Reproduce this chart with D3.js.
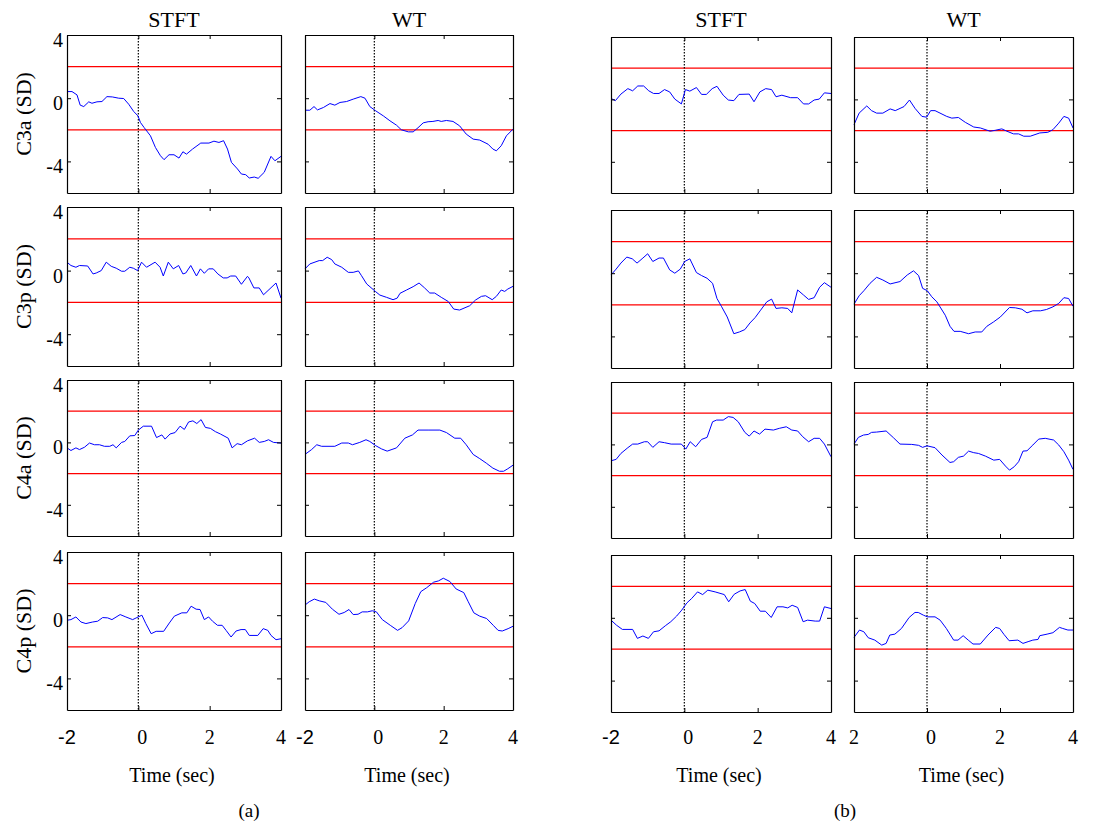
<!DOCTYPE html>
<html>
<head>
<meta charset="utf-8">
<script src="https://cdn.jsdelivr.net/npm/d3@7"></script>
<style>
  body { margin: 0; background: #fff; }
  svg { display: block; font-family: "Liberation Serif", "Times New Roman", serif; }
</style>
</head>
<body>
<svg id="plot" width="1105" height="823"></svg>
<script>
// ---- data, [time (sec), value (SD)] ----
const rowLabels = ["C3a (SD)", "C3p (SD)", "C4a (SD)", "C4p (SD)"];
const colTitles = ["STFT", "WT", "STFT", "WT"];
const xTicks = [-2, 0, 2, 4];
const xTickLabels = [["-2", "0", "2", "4"], ["-2", "0", "2", "4"], ["-2", "0", "2", "4"], ["2", "0", "2", "4"]];
const yTicks = [4, 0, -4];
const yTickLabels = ["4", "0", "-4"];
const thresholds = [2, -2];
const groupLabels = ["(a)", "(b)"];
const axisTitle = "Time (sec)";

const c3aStftA = [[-2,0.42],[-1.86,0.42],[-1.72,0.21],[-1.63,-0.44],[-1.53,-0.53],[-1.39,-0.23],[-1.3,-0.32],[-1.16,-0.23],[-1.02,-0.21],[-0.88,0.1],[-0.73,0.08],[-0.55,0],[-0.41,-0.02],[-0.27,-0.38],[-0.13,-0.84],[-0.01,-1.12],[0.06,-1.54],[0.16,-1.85],[0.34,-2.38],[0.48,-3.12],[0.62,-3.64],[0.72,-3.89],[0.86,-3.58],[1.0,-3.58],[1.14,-3.79],[1.25,-3.39],[1.35,-3.54],[1.52,-3.22],[1.75,-2.84],[1.98,-2.84],[2.12,-2.72],[2.26,-2.8],[2.39,-2.69],[2.5,-3.22],[2.61,-4.06],[2.78,-4.48],[2.89,-4.8],[3.01,-4.84],[3.11,-5.05],[3.25,-4.99],[3.36,-5.07],[3.53,-4.69],[3.72,-3.68],[3.83,-3.96],[4,-3.68]];
const c3aWtA = [[-2,-0.76],[-1.86,-0.76],[-1.74,-0.53],[-1.64,-0.74],[-1.47,-0.59],[-1.28,-0.34],[-1.14,-0.44],[-0.99,-0.27],[-0.8,-0.21],[-0.61,-0.06],[-0.39,0.1],[-0.27,0],[-0.13,-0.53],[0.04,-0.8],[0.26,-1.12],[0.45,-1.43],[0.64,-1.71],[0.78,-2.0],[0.98,-2.13],[1.12,-2.13],[1.26,-1.87],[1.41,-1.56],[1.55,-1.49],[1.69,-1.47],[1.84,-1.41],[1.93,-1.47],[2.08,-1.41],[2.27,-1.47],[2.46,-1.75],[2.65,-2.27],[2.85,-2.59],[3.04,-2.65],[3.28,-2.91],[3.42,-3.22],[3.52,-3.33],[3.66,-3.01],[3.81,-2.38],[4,-1.96]];
const c3aStftB = [[-2,0.06],[-1.88,-0.08],[-1.73,0.34],[-1.54,0.69],[-1.41,0.55],[-1.27,0.86],[-1.11,0.86],[-0.97,0.55],[-0.84,0.38],[-0.69,0.38],[-0.54,0.63],[-0.4,0.48],[-0.26,0.02],[-0.08,-0.29],[0.03,0.63],[0.15,0.53],[0.33,0.76],[0.47,0.32],[0.6,0.32],[0.76,0.69],[0.89,0.84],[1.06,0.27],[1.2,-0.04],[1.35,-0.08],[1.49,0.32],[1.77,0.34],[1.9,-0.15],[2.06,0.48],[2.22,0.69],[2.38,0.63],[2.5,0.17],[2.66,0.27],[2.9,0.11],[3.09,0.11],[3.25,-0.29],[3.39,-0.29],[3.54,-0.04],[3.68,0.02],[3.82,0.42],[4,0.38]];
const c3aWtB = [[-2,-1.62],[-1.86,-0.88],[-1.65,-0.42],[-1.52,-0.72],[-1.38,-0.88],[-1.21,-0.88],[-1.01,-0.61],[-0.87,-0.72],[-0.63,-0.46],[-0.48,-0.04],[-0.33,-0.57],[-0.14,-1.09],[-0.01,-1.14],[0.1,-0.72],[0.22,-0.72],[0.54,-1.09],[0.68,-1.2],[0.86,-1.16],[1.05,-1.47],[1.28,-1.77],[1.46,-1.83],[1.73,-2.04],[1.87,-1.98],[2.05,-1.89],[2.19,-2.04],[2.37,-2.21],[2.51,-2.21],[2.65,-2.36],[2.83,-2.36],[3.09,-2.15],[3.31,-2.11],[3.45,-1.94],[3.61,-1.52],[3.75,-1.09],[3.88,-1.2],[4,-1.83]];

const c3pStftA = [[-2,0.53],[-1.89,0.32],[-1.75,0.21],[-1.65,0.32],[-1.42,0.29],[-1.27,-0.21],[-1.18,-0.15],[-1.04,0],[-0.9,0.53],[-0.76,0.27],[-0.62,0.15],[-0.47,-0.04],[-0.38,-0.04],[-0.24,0.21],[-0.14,0.15],[-0.02,0],[0.09,0.53],[0.23,0.21],[0.47,0.53],[0.61,0.21],[0.7,-0.34],[0.84,0.53],[0.98,0.11],[1.13,0.32],[1.25,-0.21],[1.33,-0.15],[1.47,0.32],[1.63,-0.34],[1.74,0.11],[1.85,-0.17],[1.97,0.11],[2.1,0.11],[2.23,-0.21],[2.38,-0.46],[2.49,-0.46],[2.59,-0.34],[2.73,-0.34],[2.89,-0.86],[3.06,-0.36],[3.1,-0.46],[3.24,-1.09],[3.39,-1.09],[3.51,-1.52],[3.86,-0.78],[4,-1.73]];
const c3pWtA = [[-2,0.11],[-1.86,0.42],[-1.59,0.63],[-1.49,0.63],[-1.36,0.84],[-1.23,0.69],[-1.14,0.42],[-0.94,0.21],[-0.75,-0.11],[-0.61,-0.11],[-0.46,-0.02],[-0.37,-0.32],[-0.22,-0.84],[0.04,-1.33],[0.16,-1.54],[0.35,-1.68],[0.54,-1.83],[0.66,-1.73],[0.74,-1.43],[0.93,-1.22],[1.12,-1.01],[1.29,-0.78],[1.45,-1.09],[1.6,-1.41],[1.74,-1.41],[1.93,-1.68],[2.13,-1.94],[2.29,-2.42],[2.46,-2.48],[2.75,-2.21],[2.92,-1.85],[3.09,-1.62],[3.21,-1.58],[3.4,-1.83],[3.52,-1.62],[3.66,-1.22],[3.76,-1.31],[3.85,-1.16],[4,-0.99]];
const c3pStftB = [[-2,-0.11],[-1.86,0.26],[-1.73,0.64],[-1.57,1.02],[-1.42,0.91],[-1.29,0.64],[-1.13,0.96],[-1.0,1.23],[-0.86,0.74],[-0.69,0.96],[-0.57,0.96],[-0.4,0.21],[-0.26,0],[-0.11,0.26],[0.01,0.74],[0.15,0.91],[0.33,0.04],[0.47,-0.15],[0.62,-0.32],[0.77,-0.64],[0.89,-1.6],[1.01,-2.09],[1.17,-2.77],[1.35,-3.83],[1.5,-3.72],[1.65,-3.57],[1.79,-3.15],[1.93,-2.81],[2.08,-2.34],[2.25,-1.81],[2.38,-1.64],[2.5,-2.23],[2.66,-2.19],[2.82,-2.23],[2.93,-2.51],[3.09,-1.06],[3.25,-1.38],[3.39,-1.66],[3.54,-1.55],[3.69,-0.89],[3.82,-0.6],[4,-0.89]];
const c3pWtB = [[-2,-1.96],[-1.86,-1.43],[-1.73,-1.11],[-1.56,-0.64],[-1.38,-0.26],[-1.21,-0.43],[-1.01,-0.68],[-0.74,-0.53],[-0.54,-0.11],[-0.37,0.15],[-0.23,-0.15],[-0.12,-0.96],[0.01,-1.11],[0.13,-1.49],[0.27,-1.81],[0.5,-2.66],[0.63,-3.36],[0.74,-3.68],[0.91,-3.68],[1.14,-3.83],[1.32,-3.72],[1.5,-3.72],[1.64,-3.36],[1.82,-3.09],[2.01,-2.77],[2.26,-2.17],[2.42,-2.19],[2.6,-2.28],[2.74,-2.51],[2.9,-2.38],[3.11,-2.38],[3.27,-2.3],[3.45,-2.13],[3.61,-1.91],[3.75,-1.55],[3.88,-1.6],[4,-2.09]];

const c4aStftA = [[-2,-0.35],[-1.89,-0.52],[-1.75,-0.35],[-1.65,-0.46],[-1.51,-0.31],[-1.37,-0.04],[-1.23,-0.15],[-1.09,-0.15],[-0.95,-0.25],[-0.8,-0.25],[-0.71,-0.15],[-0.62,-0.35],[-0.47,0],[-0.38,0.06],[-0.24,0.42],[-0.1,0.44],[0,0.79],[0.14,1.04],[0.37,1.04],[0.51,0.31],[0.66,0.48],[0.75,0.21],[0.89,0.54],[1.03,0.63],[1.17,1.04],[1.29,0.83],[1.41,1.31],[1.53,1.38],[1.64,1.21],[1.76,1.46],[1.88,0.96],[2.02,0.9],[2.16,0.69],[2.3,0.54],[2.52,0.27],[2.63,-0.35],[2.77,-0.08],[2.89,-0.15],[3.06,0.1],[3.26,0.27],[3.39,0],[3.53,0.06],[3.65,0.17],[3.79,0],[4,-0.04]];
const c4aWtA = [[-2,-0.77],[-1.81,-0.46],[-1.66,-0.15],[-1.52,-0.25],[-1.14,-0.25],[-0.94,-0.04],[-0.75,-0.04],[-0.63,-0.15],[-0.42,0],[-0.24,0.17],[-0.13,0.06],[0.04,-0.21],[0.21,-0.42],[0.37,-0.56],[0.64,-0.35],[0.88,0.27],[1.1,0.48],[1.26,0.79],[1.55,0.79],[1.89,0.79],[2.08,0.63],[2.32,0.27],[2.49,0.27],[2.65,-0.15],[2.85,-0.77],[3.04,-1.04],[3.23,-1.33],[3.42,-1.65],[3.61,-1.85],[3.73,-1.85],[3.85,-1.69],[4,-1.46]];
const c4aStftB = [[-2,-1.05],[-1.86,-0.96],[-1.73,-0.58],[-1.54,-0.21],[-1.41,0.02],[-1.27,0.02],[-1.09,0.17],[-1.0,0.17],[-0.86,-0.19],[-0.69,0.17],[-0.54,0.11],[-0.36,0.02],[-0.08,0.02],[0.04,-0.3],[0.16,0.17],[0.31,-0.15],[0.47,0.32],[0.62,0.45],[0.77,1.45],[0.88,1.56],[1.06,1.56],[1.2,1.78],[1.33,1.73],[1.47,1.45],[1.65,0.77],[1.77,0.53],[1.9,0.86],[2.05,0.66],[2.2,0.98],[2.43,0.92],[2.59,1.03],[2.78,1.13],[2.93,0.92],[3.09,0.86],[3.23,0.49],[3.39,0.17],[3.54,0.39],[3.69,0.39],[3.82,0.02],[4,-0.79]];
const c4aWtB = [[-2,0.02],[-1.88,0.45],[-1.74,0.6],[-1.61,0.64],[-1.52,0.77],[-1.38,0.79],[-1.12,0.86],[-0.92,0.43],[-0.74,0.02],[-0.42,0],[-0.23,-0.06],[-0.12,-0.19],[0,-0.09],[0.22,-0.21],[0.41,-0.68],[0.63,-1.16],[0.73,-1.11],[0.86,-0.83],[1.0,-0.75],[1.14,-0.43],[1.28,-0.53],[1.41,-0.58],[1.6,-0.75],[1.83,-1.01],[1.99,-0.96],[2.15,-1.39],[2.26,-1.65],[2.39,-1.43],[2.51,-1.11],[2.63,-0.43],[2.74,-0.41],[2.9,-0.04],[3.06,0.34],[3.24,0.39],[3.47,0.28],[3.61,-0.04],[3.75,-0.47],[3.88,-1.01],[4,-1.6]];

const c4pStftA = [[-2,-0.32],[-1.89,-0.28],[-1.75,-0.11],[-1.61,-0.43],[-1.47,-0.53],[-1.28,-0.43],[-1.14,-0.38],[-1.0,-0.15],[-0.86,-0.17],[-0.74,-0.28],[-0.51,0.04],[-0.35,-0.11],[-0.16,-0.28],[-0.04,-0.15],[0.1,0],[0.21,-0.53],[0.36,-1.17],[0.5,-1.02],[0.71,-1.02],[0.87,-0.49],[1.01,-0.06],[1.22,0.15],[1.36,0.15],[1.48,0.57],[1.62,0.38],[1.73,0.36],[1.85,-0.28],[1.97,-0.11],[2.08,-0.38],[2.22,-0.64],[2.35,-0.64],[2.46,-0.96],[2.6,-1.38],[2.74,-1.0],[2.88,-0.91],[3.0,-0.91],[3.11,-1.28],[3.35,-1.28],[3.5,-0.85],[3.63,-0.96],[3.72,-1.28],[3.86,-1.55],[4,-1.49]];
const c4pWtA = [[-2,0.64],[-1.88,0.85],[-1.73,1.02],[-1.59,0.91],[-1.4,0.81],[-1.21,0.38],[-1.02,0.06],[-0.87,0.17],[-0.73,0.36],[-0.61,0.04],[-0.47,0.06],[-0.35,0.21],[-0.2,0.21],[-0.06,0.28],[0.06,0.21],[0.23,-0.28],[0.46,-0.64],[0.67,-0.96],[0.8,-0.79],[0.99,-0.36],[1.18,0.74],[1.34,1.49],[1.51,1.74],[1.71,2.09],[1.85,2.17],[1.99,2.34],[2.18,2.13],[2.36,1.66],[2.58,1.43],[2.71,0.85],[2.87,0.15],[3.04,-0.06],[3.24,-0.21],[3.43,-0.64],[3.57,-0.96],[3.69,-1.0],[3.86,-0.85],[4,-0.7]];
const c4pStftB = [[-2,-0.15],[-1.85,-0.47],[-1.69,-0.74],[-1.41,-0.74],[-1.28,-1.31],[-1.13,-1.16],[-0.98,-1.31],[-0.84,-0.89],[-0.69,-0.83],[-0.52,-0.51],[-0.37,-0.25],[-0.21,0.11],[-0.07,0.49],[0.07,0.95],[0.2,1.23],[0.36,1.65],[0.5,1.48],[0.64,1.76],[0.84,1.65],[1.09,1.48],[1.21,1.02],[1.36,1.5],[1.52,1.71],[1.66,1.8],[1.8,1.06],[1.92,0.91],[2.07,0.42],[2.21,0.42],[2.37,0.02],[2.53,0.7],[2.69,0.7],[2.82,0.63],[2.94,0.8],[3.09,0.66],[3.24,-0.25],[3.36,-0.15],[3.57,-0.21],[3.69,-0.21],[3.82,0.7],[4,0.59]];
const c4pWtB = [[-2,-1.25],[-1.85,-0.78],[-1.73,-0.89],[-1.61,-1.27],[-1.43,-1.42],[-1.24,-1.74],[-1.12,-1.63],[-1.02,-1.1],[-0.88,-1.04],[-0.7,-0.68],[-0.49,0.02],[-0.33,0.34],[-0.24,0.34],[-0.1,0.17],[0.01,0.06],[0.22,0.06],[0.36,-0.15],[0.53,-0.68],[0.73,-1.42],[0.85,-1.42],[0.99,-1.14],[1.13,-1.42],[1.26,-1.67],[1.46,-1.67],[1.67,-1.1],[1.88,-0.61],[1.99,-0.68],[2.11,-1.06],[2.25,-1.46],[2.49,-1.42],[2.63,-1.63],[2.77,-1.52],[2.9,-1.42],[3.04,-1.38],[3.09,-1.14],[3.29,-1.04],[3.45,-0.95],[3.63,-0.61],[3.72,-0.68],[3.86,-0.78],[4,-0.78]];

const series = [
  [c3aStftA, c3aWtA, c3aStftB, c3aWtB],
  [c3pStftA, c3pWtA, c3pStftB, c3pWtB],
  [c4aStftA, c4aWtA, c4aStftB, c4aWtB],
  [c4pStftA, c4pWtA, c4pStftB, c4pWtB]
];

// ---- layout ----
const cols = [[67, 281], [305, 513], [611, 831], [854, 1073]];
const rowsA = [[35, 193], [207, 366], [380, 536], [552, 710]];
const rowsB = [[37, 193], [210, 368], [382, 538], [555, 712]];

const svg = d3.select("#plot");

series.forEach((rowSeries, r) => {
  rowSeries.forEach((data, c) => {
    const [x0, x1] = cols[c];
    const [y0, y1] = c < 2 ? rowsA[r] : rowsB[r];

    const x = d3.scaleLinear().domain([-2, 4]).range([x0, x1]);
    const y = d3.scaleLinear().domain([-6, 4]).range([y1, y0]);

    const g = svg.append("g");

    // thresholds
    g.selectAll("line.th")
      .data(thresholds)
      .enter().append("line")
      .attr("x1", x0).attr("x2", x1)
      .attr("y1", d => y(d)).attr("y2", d => y(d))
      .attr("stroke", "#ff0000")
      .attr("stroke-width", 1.2);

    // stimulus onset
    g.append("line")
      .attr("x1", x(0)).attr("x2", x(0))
      .attr("y1", y0).attr("y2", y1)
      .attr("stroke", "#000")
      .attr("stroke-width", 1.2)
      .attr("stroke-dasharray", "1.5,1.5");

    // signal
    g.append("path")
      .datum(data)
      .attr("fill", "none")
      .attr("stroke", "#0000ff")
      .attr("stroke-width", 1)
      .attr("d", d3.line().x(d => x(d[0])).y(d => y(d[1])));

    // box with inward ticks
    const tick = 4;
    const axes = [
      [d3.axisBottom(x).tickValues(xTicks), `translate(0,${y1})`],
      [d3.axisTop(x).tickValues(xTicks), `translate(0,${y0})`],
      [d3.axisLeft(y).tickValues(yTicks), `translate(${x0},0)`],
      [d3.axisRight(y).tickValues(yTicks), `translate(${x1},0)`]
    ];
    axes.forEach(([ax, tr]) => {
      const a = g.append("g")
        .attr("transform", tr)
        .call(ax.tickSizeInner(-tick).tickSizeOuter(0).tickFormat(""));
      a.select(".domain").attr("stroke", "#000").attr("stroke-width", 1.2);
      a.selectAll(".tick line").attr("stroke", "#000");
    });

    // column titles
    if (r === 0) {
      svg.append("text")
        .attr("x", (x0 + x1) / 2)
        .attr("y", 27)
        .attr("text-anchor", "middle")
        .attr("font-size", 22)
        .text(colTitles[c]);
    }

    // y labels on first column only
    if (c === 0) {
      svg.selectAll(null)
        .data(yTicks)
        .enter().append("text")
        .attr("x", x0 - 4)
        .attr("y", d => y(d) + 5)
        .attr("dy", "0.35em")
        .attr("text-anchor", "end")
        .attr("font-size", 20)
        .text((d, i) => yTickLabels[i]);

      svg.append("text")
        .attr("transform", `translate(31,${(y0 + y1) / 2}) rotate(-90)`)
        .attr("text-anchor", "middle")
        .attr("font-size", 22)
        .text(rowLabels[r]);
    }

    // x tick labels and title on last row
    if (r === 3) {
      svg.selectAll(null)
        .data(xTicks)
        .enter().append("text")
        .attr("x", d => x(d) + (d === 0 ? 4 : 0))
        .attr("y", 744)
        .attr("text-anchor", "middle")
        .attr("font-size", 20)
        .attr("font-family", (d, i) => xTickLabels[c][i] === "-2" ? "Liberation Sans, Arial, sans-serif" : null)
        .text((d, i) => xTickLabels[c][i]);

      svg.append("text")
        .attr("x", (x0 + x1) / 2 - 2)
        .attr("y", 782)
        .attr("text-anchor", "middle")
        .attr("font-size", 20)
        .text(axisTitle);
    }
  });
});

// group labels
svg.selectAll("text.group")
  .data(groupLabels)
  .enter().append("text")
  .attr("class", "group")
  .attr("x", (d, i) => i === 0 ? 249 : 845)
  .attr("y", 817)
  .attr("text-anchor", "middle")
  .attr("font-size", 19)
  .text(d => d);
</script>
</body>
</html>
